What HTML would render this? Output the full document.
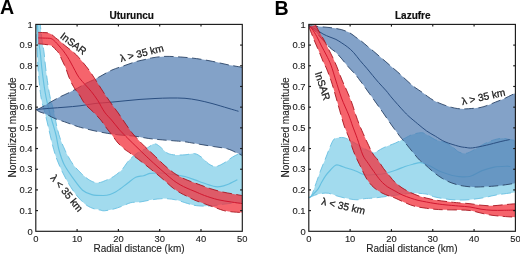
<!DOCTYPE html>
<html><head><meta charset="utf-8"><style>
html,body{margin:0;padding:0;background:#fff;width:520px;height:254px;overflow:hidden}
svg{display:block;will-change:transform}
#w{width:520px;height:254px}
text{font-family:"Liberation Sans",sans-serif;fill:#222}
.tk{font-size:9.4px;fill:#1e1e1e;stroke:#1e1e1e;stroke-width:0.12px}
.ttl{font-size:10px;font-weight:bold;fill:#111;stroke:#111;stroke-width:0.2px}
.pl{font-size:19.6px;font-weight:bold;fill:#000}
.al{font-size:10px;fill:#1e1e1e;stroke:#1e1e1e;stroke-width:0.12px}
.ann{font-size:10.2px;fill:#1e1e1e;stroke:#1e1e1e;stroke-width:0.28px}
</style></head><body><div id="w">
<svg width="520" height="254" viewBox="0 0 520 254">
<defs><clipPath id="clipA"><rect x="35.80" y="24.40" width="206.50" height="206.90"/></clipPath><clipPath id="clipB"><rect x="308.80" y="24.40" width="206.60" height="206.90"/></clipPath></defs>
<rect width="520" height="254" fill="#fff"/>
<g clip-path="url(#clipA)"><path d="M39.80,20.00 C40.17,23.33 41.30,34.67 42.00,40.00 C42.70,45.33 43.38,47.33 44.00,52.00 C44.62,56.67 45.03,62.50 45.70,68.00 C46.37,73.50 47.23,80.00 48.00,85.00 C48.77,90.00 49.30,93.50 50.30,98.00 C51.30,102.50 52.97,107.50 54.00,112.00 C55.03,116.50 55.50,120.67 56.50,125.00 C57.50,129.33 58.67,134.00 60.00,138.00 C61.33,142.00 63.08,145.83 64.50,149.00 C65.92,152.17 67.00,154.33 68.50,157.00 C70.00,159.67 71.33,162.23 73.50,165.00 C75.67,167.77 78.75,171.03 81.50,173.60 C84.25,176.17 87.27,178.87 90.00,180.40 C92.73,181.93 95.28,182.80 97.90,182.80 C100.52,182.80 103.08,181.45 105.70,180.40 C108.32,179.35 110.97,178.20 113.60,176.50 C116.23,174.80 119.40,172.30 121.50,170.20 C123.60,168.10 124.78,165.73 126.20,163.90 C127.62,162.07 128.03,161.10 130.00,159.20 C131.97,157.30 135.10,154.38 138.00,152.50 C140.90,150.62 144.68,149.35 147.40,147.90 C150.12,146.45 152.23,144.03 154.30,143.80 C156.37,143.57 157.73,145.02 159.80,146.50 C161.87,147.98 164.40,151.32 166.70,152.70 C169.00,154.08 170.55,154.45 173.60,154.80 C176.65,155.15 181.52,155.00 185.00,154.80 C188.48,154.60 191.75,153.20 194.50,153.60 C197.25,154.00 199.15,155.50 201.50,157.20 C203.85,158.90 206.23,162.25 208.60,163.80 C210.97,165.35 213.13,166.63 215.70,166.50 C218.27,166.37 221.23,164.55 224.00,163.00 C226.77,161.45 229.73,158.77 232.30,157.20 C234.87,155.63 237.45,154.47 239.40,153.60 C241.35,152.73 243.23,152.27 244.00,152.00 L244.00,202.00 C240.83,202.33 230.67,203.33 225.00,204.00 C219.33,204.67 214.72,205.72 210.00,206.00 C205.28,206.28 200.48,206.13 196.70,205.70 C192.92,205.27 190.83,204.38 187.30,203.40 C183.77,202.42 179.45,200.60 175.50,199.80 C171.55,199.00 167.55,198.60 163.60,198.60 C159.65,198.60 155.73,199.23 151.80,199.80 C147.87,200.37 143.50,201.52 140.00,202.00 C136.50,202.48 133.82,201.98 130.80,202.70 C127.78,203.42 124.85,205.22 121.90,206.30 C118.95,207.38 116.05,208.45 113.10,209.20 C110.15,209.95 106.38,210.67 104.20,210.80 C102.02,210.93 101.47,210.25 100.00,210.00 C98.53,209.75 97.65,210.10 95.40,209.30 C93.15,208.50 89.40,207.25 86.50,205.20 C83.60,203.15 80.42,199.70 78.00,197.00 C75.58,194.30 74.00,192.00 72.00,189.00 C70.00,186.00 67.92,182.50 66.00,179.00 C64.08,175.50 62.17,171.67 60.50,168.00 C58.83,164.33 57.33,160.83 56.00,157.00 C54.67,153.17 53.67,149.50 52.50,145.00 C51.33,140.50 50.17,135.00 49.00,130.00 C47.83,125.00 46.75,120.00 45.50,115.00 C44.25,110.00 42.50,105.00 41.50,100.00 C40.50,95.00 40.08,90.33 39.50,85.00 C38.92,79.67 38.37,73.50 38.00,68.00 C37.63,62.50 37.55,56.67 37.30,52.00 C37.05,47.33 36.75,45.33 36.50,40.00 C36.25,34.67 35.92,23.33 35.80,20.00 Z" fill="#a2dbee" fill-opacity="1" stroke="none"/></g>
<g clip-path="url(#clipA)" fill="none"><path d="M39.80,20.00 C40.17,23.33 41.30,34.67 42.00,40.00 C42.70,45.33 43.38,47.33 44.00,52.00 C44.62,56.67 45.03,62.50 45.70,68.00 C46.37,73.50 47.23,80.00 48.00,85.00 C48.77,90.00 49.30,93.50 50.30,98.00 C51.30,102.50 52.97,107.50 54.00,112.00 C55.03,116.50 55.50,120.67 56.50,125.00 C57.50,129.33 58.67,134.00 60.00,138.00 C61.33,142.00 63.08,145.83 64.50,149.00 C65.92,152.17 67.00,154.33 68.50,157.00 C70.00,159.67 71.33,162.23 73.50,165.00 C75.67,167.77 78.75,171.03 81.50,173.60 C84.25,176.17 87.27,178.87 90.00,180.40 C92.73,181.93 95.28,182.80 97.90,182.80 C100.52,182.80 103.08,181.45 105.70,180.40 C108.32,179.35 110.97,178.20 113.60,176.50 C116.23,174.80 119.40,172.30 121.50,170.20 C123.60,168.10 124.78,165.73 126.20,163.90 C127.62,162.07 128.03,161.10 130.00,159.20 C131.97,157.30 135.10,154.38 138.00,152.50 C140.90,150.62 144.68,149.35 147.40,147.90 C150.12,146.45 152.23,144.03 154.30,143.80 C156.37,143.57 157.73,145.02 159.80,146.50 C161.87,147.98 164.40,151.32 166.70,152.70 C169.00,154.08 170.55,154.45 173.60,154.80 C176.65,155.15 181.52,155.00 185.00,154.80 C188.48,154.60 191.75,153.20 194.50,153.60 C197.25,154.00 199.15,155.50 201.50,157.20 C203.85,158.90 206.23,162.25 208.60,163.80 C210.97,165.35 213.13,166.63 215.70,166.50 C218.27,166.37 221.23,164.55 224.00,163.00 C226.77,161.45 229.73,158.77 232.30,157.20 C234.87,155.63 237.45,154.47 239.40,153.60 C241.35,152.73 243.23,152.27 244.00,152.00" stroke="#62bde0" stroke-width="0.85" stroke-dasharray="9.5 4.5"/><path d="M35.80,20.00 C35.92,23.33 36.25,34.67 36.50,40.00 C36.75,45.33 37.05,47.33 37.30,52.00 C37.55,56.67 37.63,62.50 38.00,68.00 C38.37,73.50 38.92,79.67 39.50,85.00 C40.08,90.33 40.50,95.00 41.50,100.00 C42.50,105.00 44.25,110.00 45.50,115.00 C46.75,120.00 47.83,125.00 49.00,130.00 C50.17,135.00 51.33,140.50 52.50,145.00 C53.67,149.50 54.67,153.17 56.00,157.00 C57.33,160.83 58.83,164.33 60.50,168.00 C62.17,171.67 64.08,175.50 66.00,179.00 C67.92,182.50 70.00,186.00 72.00,189.00 C74.00,192.00 75.58,194.30 78.00,197.00 C80.42,199.70 83.60,203.15 86.50,205.20 C89.40,207.25 93.15,208.50 95.40,209.30 C97.65,210.10 98.53,209.75 100.00,210.00 C101.47,210.25 102.02,210.93 104.20,210.80 C106.38,210.67 110.15,209.95 113.10,209.20 C116.05,208.45 118.95,207.38 121.90,206.30 C124.85,205.22 127.78,203.42 130.80,202.70 C133.82,201.98 136.50,202.48 140.00,202.00 C143.50,201.52 147.87,200.37 151.80,199.80 C155.73,199.23 159.65,198.60 163.60,198.60 C167.55,198.60 171.55,199.00 175.50,199.80 C179.45,200.60 183.77,202.42 187.30,203.40 C190.83,204.38 192.92,205.27 196.70,205.70 C200.48,206.13 205.28,206.28 210.00,206.00 C214.72,205.72 219.33,204.67 225.00,204.00 C230.67,203.33 240.83,202.33 244.00,202.00" stroke="#62bde0" stroke-width="0.85" stroke-dasharray="9.5 4.5"/><path d="M37.20,20.00 C37.42,23.33 38.00,34.67 38.50,40.00 C39.00,45.33 39.65,47.33 40.20,52.00 C40.75,56.67 41.17,62.50 41.80,68.00 C42.43,73.50 43.30,80.17 44.00,85.00 C44.70,89.83 45.17,92.83 46.00,97.00 C46.83,101.17 47.95,105.83 49.00,110.00 C50.05,114.17 51.13,117.83 52.30,122.00 C53.47,126.17 54.88,130.33 56.00,135.00 C57.12,139.67 57.67,145.13 59.00,150.00 C60.33,154.87 61.63,159.47 64.00,164.20 C66.37,168.93 70.10,174.07 73.20,178.40 C76.30,182.73 79.50,187.50 82.60,190.20 C85.70,192.90 88.30,193.72 91.80,194.60 C95.30,195.48 100.57,195.52 103.60,195.50 C106.63,195.48 108.02,195.08 110.00,194.50 C111.98,193.92 113.83,192.92 115.50,192.00 C117.17,191.08 117.93,190.50 120.00,189.00 C122.07,187.50 125.28,184.95 127.90,183.00 C130.52,181.05 133.08,178.52 135.70,177.30 C138.32,176.08 141.23,176.35 143.60,175.70 C145.97,175.05 147.17,173.85 149.90,173.40 C152.63,172.95 156.65,172.90 160.00,173.00 C163.35,173.10 165.83,173.42 170.00,174.00 C174.17,174.58 180.13,175.25 185.00,176.50 C189.87,177.75 194.47,179.87 199.20,181.50 C203.93,183.13 209.93,185.45 213.40,186.30 C216.87,187.15 217.63,186.90 220.00,186.60 C222.37,186.30 224.70,185.63 227.60,184.50 C230.50,183.37 235.77,180.58 237.40,179.80" stroke="#66c0e0" stroke-width="1.15"/></g>
<g clip-path="url(#clipA)"><path d="M35.80,109.50 C36.50,109.28 37.65,109.37 40.00,108.20 C42.35,107.03 46.62,104.37 49.90,102.50 C53.18,100.63 56.70,98.55 59.70,97.00 C62.70,95.45 64.97,94.65 67.90,93.20 C70.83,91.75 74.28,89.95 77.30,88.30 C80.32,86.65 83.12,84.78 86.00,83.30 C88.88,81.82 92.27,80.53 94.60,79.40 C96.93,78.27 97.13,78.05 100.00,76.50 C102.87,74.95 107.87,71.87 111.80,70.10 C115.73,68.33 119.67,67.28 123.60,65.90 C127.53,64.52 131.83,62.87 135.40,61.80 C138.97,60.73 142.07,60.18 145.00,59.50 C147.93,58.82 149.67,58.22 153.00,57.70 C156.33,57.18 160.38,56.52 165.00,56.40 C169.62,56.28 175.45,56.63 180.70,57.00 C185.95,57.37 191.25,57.88 196.50,58.60 C201.75,59.32 206.95,60.27 212.20,61.30 C217.45,62.33 222.98,63.80 228.00,64.80 C233.02,65.80 239.92,66.88 242.30,67.30 L242.30,155.50 C241.42,155.08 239.45,154.10 237.00,153.00 C234.55,151.90 231.53,149.98 227.60,148.90 C223.67,147.82 218.13,147.28 213.40,146.50 C208.67,145.72 203.93,144.98 199.20,144.20 C194.47,143.42 188.82,142.33 185.00,141.80 C181.18,141.27 180.05,141.32 176.30,141.00 C172.55,140.68 167.08,140.32 162.50,139.90 C157.92,139.48 153.38,139.12 148.80,138.50 C144.22,137.88 139.80,136.78 135.00,136.20 C130.20,135.62 124.63,135.48 120.00,135.00 C115.37,134.52 111.70,134.05 107.20,133.30 C102.70,132.55 97.48,131.50 93.00,130.50 C88.52,129.50 83.63,128.23 80.30,127.30 C76.97,126.37 75.63,125.82 73.00,124.90 C70.37,123.98 67.50,122.85 64.50,121.80 C61.50,120.75 58.15,119.92 55.00,118.60 C51.85,117.28 48.10,115.00 45.60,113.90 C43.10,112.80 41.63,112.73 40.00,112.00 C38.37,111.27 36.50,109.92 35.80,109.50 Z" fill="#4f7bb0" fill-opacity="0.7" stroke="none"/></g>
<g clip-path="url(#clipA)" fill="none"><path d="M35.80,109.50 C36.50,109.28 37.65,109.37 40.00,108.20 C42.35,107.03 46.62,104.37 49.90,102.50 C53.18,100.63 56.70,98.55 59.70,97.00 C62.70,95.45 64.97,94.65 67.90,93.20 C70.83,91.75 74.28,89.95 77.30,88.30 C80.32,86.65 83.12,84.78 86.00,83.30 C88.88,81.82 92.27,80.53 94.60,79.40 C96.93,78.27 97.13,78.05 100.00,76.50 C102.87,74.95 107.87,71.87 111.80,70.10 C115.73,68.33 119.67,67.28 123.60,65.90 C127.53,64.52 131.83,62.87 135.40,61.80 C138.97,60.73 142.07,60.18 145.00,59.50 C147.93,58.82 149.67,58.22 153.00,57.70 C156.33,57.18 160.38,56.52 165.00,56.40 C169.62,56.28 175.45,56.63 180.70,57.00 C185.95,57.37 191.25,57.88 196.50,58.60 C201.75,59.32 206.95,60.27 212.20,61.30 C217.45,62.33 222.98,63.80 228.00,64.80 C233.02,65.80 239.92,66.88 242.30,67.30" stroke="#2a4466" stroke-width="0.9" stroke-dasharray="9.5 4.5"/><path d="M35.80,109.50 C36.50,109.92 38.37,111.27 40.00,112.00 C41.63,112.73 43.10,112.80 45.60,113.90 C48.10,115.00 51.85,117.28 55.00,118.60 C58.15,119.92 61.50,120.75 64.50,121.80 C67.50,122.85 70.37,123.98 73.00,124.90 C75.63,125.82 76.97,126.37 80.30,127.30 C83.63,128.23 88.52,129.50 93.00,130.50 C97.48,131.50 102.70,132.55 107.20,133.30 C111.70,134.05 115.37,134.52 120.00,135.00 C124.63,135.48 130.20,135.62 135.00,136.20 C139.80,136.78 144.22,137.88 148.80,138.50 C153.38,139.12 157.92,139.48 162.50,139.90 C167.08,140.32 172.55,140.68 176.30,141.00 C180.05,141.32 181.18,141.27 185.00,141.80 C188.82,142.33 194.47,143.42 199.20,144.20 C203.93,144.98 208.67,145.72 213.40,146.50 C218.13,147.28 223.67,147.82 227.60,148.90 C231.53,149.98 234.55,151.90 237.00,153.00 C239.45,154.10 241.42,155.08 242.30,155.50" stroke="#2a4466" stroke-width="0.9" stroke-dasharray="9.5 4.5"/><path d="M35.80,109.50 C38.17,109.30 45.13,108.68 50.00,108.30 C54.87,107.92 60.00,107.62 65.00,107.20 C70.00,106.78 75.00,106.42 80.00,105.80 C85.00,105.18 90.00,104.08 95.00,103.50 C100.00,102.92 105.00,102.75 110.00,102.30 C115.00,101.85 120.00,101.28 125.00,100.80 C130.00,100.32 135.00,99.78 140.00,99.40 C145.00,99.02 150.00,98.73 155.00,98.50 C160.00,98.27 165.00,98.03 170.00,98.00 C175.00,97.97 180.33,97.93 185.00,98.30 C189.67,98.67 193.50,99.33 198.00,100.20 C202.50,101.07 207.00,102.17 212.00,103.50 C217.00,104.83 223.58,106.90 228.00,108.20 C232.42,109.50 236.75,110.78 238.50,111.30" stroke="#2b4f80" stroke-width="1.0"/></g>
<g clip-path="url(#clipA)"><path d="M38.30,32.40 C39.25,32.43 42.30,32.50 44.00,32.60 C45.70,32.70 47.17,32.63 48.50,33.00 C49.83,33.37 50.83,34.00 52.00,34.80 C53.17,35.60 54.27,36.80 55.50,37.80 C56.73,38.80 57.77,39.47 59.40,40.80 C61.03,42.13 63.37,44.22 65.30,45.80 C67.23,47.38 69.13,48.77 71.00,50.30 C72.87,51.83 74.67,53.17 76.50,55.00 C78.33,56.83 79.92,58.80 82.00,61.30 C84.08,63.80 87.00,67.30 89.00,70.00 C91.00,72.70 92.42,75.08 94.00,77.50 C95.58,79.92 97.00,82.17 98.50,84.50 C100.00,86.83 101.70,89.50 103.00,91.50 C104.30,93.50 105.25,94.97 106.30,96.50 C107.35,98.03 108.18,99.12 109.30,100.70 C110.42,102.28 111.63,104.12 113.00,106.00 C114.37,107.88 115.83,109.67 117.50,112.00 C119.17,114.33 121.17,117.33 123.00,120.00 C124.83,122.67 126.83,125.67 128.50,128.00 C130.17,130.33 130.78,131.42 133.00,134.00 C135.22,136.58 139.17,140.78 141.80,143.50 C144.43,146.22 146.48,148.08 148.80,150.30 C151.12,152.52 153.00,154.22 155.70,156.80 C158.40,159.38 162.07,163.18 165.00,165.80 C167.93,168.42 170.77,170.67 173.30,172.50 C175.83,174.33 177.92,175.55 180.20,176.80 C182.48,178.05 184.53,178.97 187.00,180.00 C189.47,181.03 192.08,181.92 195.00,183.00 C197.92,184.08 201.85,185.53 204.50,186.50 C207.15,187.47 207.87,187.88 210.90,188.80 C213.93,189.72 218.75,191.10 222.70,192.00 C226.65,192.90 231.33,193.60 234.60,194.20 C237.87,194.80 241.02,195.37 242.30,195.60 L242.30,212.50 C240.83,212.42 236.58,212.32 233.50,212.00 C230.42,211.68 227.02,211.40 223.80,210.60 C220.58,209.80 217.40,208.33 214.20,207.20 C211.00,206.07 207.80,204.95 204.60,203.80 C201.40,202.65 197.93,201.55 195.00,200.30 C192.07,199.05 189.47,197.55 187.00,196.30 C184.53,195.05 182.48,194.13 180.20,192.80 C177.92,191.47 175.83,190.27 173.30,188.30 C170.77,186.33 167.55,183.22 165.00,181.00 C162.45,178.78 160.50,177.08 158.00,175.00 C155.50,172.92 152.70,170.67 150.00,168.50 C147.30,166.33 145.13,164.58 141.80,162.00 C138.47,159.42 132.80,155.08 130.00,153.00 C127.20,150.92 127.00,151.17 125.00,149.50 C123.00,147.83 120.17,145.42 118.00,143.00 C115.83,140.58 113.92,137.50 112.00,135.00 C110.08,132.50 108.37,130.50 106.50,128.00 C104.63,125.50 103.00,122.67 100.80,120.00 C98.60,117.33 95.93,114.67 93.30,112.00 C90.67,109.33 87.20,106.67 85.00,104.00 C82.80,101.33 81.27,97.83 80.10,96.00 C78.93,94.17 78.85,94.17 78.00,93.00 C77.15,91.83 76.08,90.67 75.00,89.00 C73.92,87.33 72.58,85.17 71.50,83.00 C70.42,80.83 69.47,78.50 68.50,76.00 C67.53,73.50 66.78,70.67 65.70,68.00 C64.62,65.33 63.20,62.53 62.00,60.00 C60.80,57.47 59.50,54.47 58.50,52.80 C57.50,51.13 56.87,50.97 56.00,50.00 C55.13,49.03 54.30,47.78 53.30,47.00 C52.30,46.22 51.42,45.73 50.00,45.30 C48.58,44.87 46.75,44.65 44.80,44.40 C42.85,44.15 39.38,43.90 38.30,43.80 Z" fill="#f2303b" fill-opacity="0.75" stroke="none"/></g>
<g clip-path="url(#clipA)" fill="none"><path d="M38.30,32.40 C39.25,32.43 42.30,32.50 44.00,32.60 C45.70,32.70 47.17,32.63 48.50,33.00 C49.83,33.37 50.83,34.00 52.00,34.80 C53.17,35.60 54.27,36.80 55.50,37.80 C56.73,38.80 57.77,39.47 59.40,40.80 C61.03,42.13 63.37,44.22 65.30,45.80 C67.23,47.38 69.13,48.77 71.00,50.30 C72.87,51.83 74.67,53.17 76.50,55.00 C78.33,56.83 79.92,58.80 82.00,61.30 C84.08,63.80 87.00,67.30 89.00,70.00 C91.00,72.70 92.42,75.08 94.00,77.50 C95.58,79.92 97.00,82.17 98.50,84.50 C100.00,86.83 101.70,89.50 103.00,91.50 C104.30,93.50 105.25,94.97 106.30,96.50 C107.35,98.03 108.18,99.12 109.30,100.70 C110.42,102.28 111.63,104.12 113.00,106.00 C114.37,107.88 115.83,109.67 117.50,112.00 C119.17,114.33 121.17,117.33 123.00,120.00 C124.83,122.67 126.83,125.67 128.50,128.00 C130.17,130.33 130.78,131.42 133.00,134.00 C135.22,136.58 139.17,140.78 141.80,143.50 C144.43,146.22 146.48,148.08 148.80,150.30 C151.12,152.52 153.00,154.22 155.70,156.80 C158.40,159.38 162.07,163.18 165.00,165.80 C167.93,168.42 170.77,170.67 173.30,172.50 C175.83,174.33 177.92,175.55 180.20,176.80 C182.48,178.05 184.53,178.97 187.00,180.00 C189.47,181.03 192.08,181.92 195.00,183.00 C197.92,184.08 201.85,185.53 204.50,186.50 C207.15,187.47 207.87,187.88 210.90,188.80 C213.93,189.72 218.75,191.10 222.70,192.00 C226.65,192.90 231.33,193.60 234.60,194.20 C237.87,194.80 241.02,195.37 242.30,195.60" stroke="#a8141f" stroke-width="0.9" stroke-dasharray="9.5 4.5"/><path d="M38.30,43.80 C39.38,43.90 42.85,44.15 44.80,44.40 C46.75,44.65 48.58,44.87 50.00,45.30 C51.42,45.73 52.30,46.22 53.30,47.00 C54.30,47.78 55.13,49.03 56.00,50.00 C56.87,50.97 57.50,51.13 58.50,52.80 C59.50,54.47 60.80,57.47 62.00,60.00 C63.20,62.53 64.62,65.33 65.70,68.00 C66.78,70.67 67.53,73.50 68.50,76.00 C69.47,78.50 70.42,80.83 71.50,83.00 C72.58,85.17 73.92,87.33 75.00,89.00 C76.08,90.67 77.15,91.83 78.00,93.00 C78.85,94.17 78.93,94.17 80.10,96.00 C81.27,97.83 82.80,101.33 85.00,104.00 C87.20,106.67 90.67,109.33 93.30,112.00 C95.93,114.67 98.60,117.33 100.80,120.00 C103.00,122.67 104.63,125.50 106.50,128.00 C108.37,130.50 110.08,132.50 112.00,135.00 C113.92,137.50 115.83,140.58 118.00,143.00 C120.17,145.42 123.00,147.83 125.00,149.50 C127.00,151.17 127.20,150.92 130.00,153.00 C132.80,155.08 138.47,159.42 141.80,162.00 C145.13,164.58 147.30,166.33 150.00,168.50 C152.70,170.67 155.50,172.92 158.00,175.00 C160.50,177.08 162.45,178.78 165.00,181.00 C167.55,183.22 170.77,186.33 173.30,188.30 C175.83,190.27 177.92,191.47 180.20,192.80 C182.48,194.13 184.53,195.05 187.00,196.30 C189.47,197.55 192.07,199.05 195.00,200.30 C197.93,201.55 201.40,202.65 204.60,203.80 C207.80,204.95 211.00,206.07 214.20,207.20 C217.40,208.33 220.58,209.80 223.80,210.60 C227.02,211.40 230.42,211.68 233.50,212.00 C236.58,212.32 240.83,212.42 242.30,212.50" stroke="#a8141f" stroke-width="0.9" stroke-dasharray="9.5 4.5"/><path d="M38.30,37.90 C39.25,37.93 41.93,38.00 44.00,38.10 C46.07,38.20 49.03,38.10 50.70,38.50 C52.37,38.90 52.95,39.67 54.00,40.50 C55.05,41.33 56.00,42.42 57.00,43.50 C58.00,44.58 59.00,45.83 60.00,47.00 C61.00,48.17 61.78,48.92 63.00,50.50 C64.22,52.08 65.97,54.42 67.30,56.50 C68.63,58.58 69.72,60.67 71.00,63.00 C72.28,65.33 73.67,68.08 75.00,70.50 C76.33,72.92 77.25,75.08 79.00,77.50 C80.75,79.92 83.45,82.67 85.50,85.00 C87.55,87.33 89.25,88.92 91.30,91.50 C93.35,94.08 95.60,97.08 97.80,100.50 C100.00,103.92 102.22,108.75 104.50,112.00 C106.78,115.25 109.25,117.33 111.50,120.00 C113.75,122.67 116.17,125.83 118.00,128.00 C119.83,130.17 120.50,130.92 122.50,133.00 C124.50,135.08 126.78,137.33 130.00,140.50 C133.22,143.67 138.47,148.78 141.80,152.00 C145.13,155.22 147.47,157.43 150.00,159.80 C152.53,162.17 154.50,163.97 157.00,166.20 C159.50,168.43 162.28,170.85 165.00,173.20 C167.72,175.55 170.77,178.37 173.30,180.30 C175.83,182.23 177.92,183.48 180.20,184.80 C182.48,186.12 184.53,187.08 187.00,188.20 C189.47,189.32 192.08,190.28 195.00,191.50 C197.92,192.72 200.68,194.13 204.50,195.50 C208.32,196.87 213.42,198.62 217.90,199.70 C222.38,200.78 227.33,201.35 231.40,202.00 C235.47,202.65 240.48,203.33 242.30,203.60" stroke="#d01830" stroke-width="1.0"/></g>
<g stroke="#1a1a1a" stroke-width="1.15" fill="none"><rect x="35.80" y="24.40" width="206.50" height="206.90"/><line x1="77.10" y1="231.30" x2="77.10" y2="229.10"/><line x1="77.10" y1="24.40" x2="77.10" y2="26.60"/><line x1="118.40" y1="231.30" x2="118.40" y2="229.10"/><line x1="118.40" y1="24.40" x2="118.40" y2="26.60"/><line x1="159.70" y1="231.30" x2="159.70" y2="229.10"/><line x1="159.70" y1="24.40" x2="159.70" y2="26.60"/><line x1="201.00" y1="231.30" x2="201.00" y2="229.10"/><line x1="201.00" y1="24.40" x2="201.00" y2="26.60"/><line x1="35.80" y1="210.61" x2="38.00" y2="210.61"/><line x1="242.30" y1="210.61" x2="240.10" y2="210.61"/><line x1="35.80" y1="189.92" x2="38.00" y2="189.92"/><line x1="242.30" y1="189.92" x2="240.10" y2="189.92"/><line x1="35.80" y1="169.23" x2="38.00" y2="169.23"/><line x1="242.30" y1="169.23" x2="240.10" y2="169.23"/><line x1="35.80" y1="148.54" x2="38.00" y2="148.54"/><line x1="242.30" y1="148.54" x2="240.10" y2="148.54"/><line x1="35.80" y1="127.85" x2="38.00" y2="127.85"/><line x1="242.30" y1="127.85" x2="240.10" y2="127.85"/><line x1="35.80" y1="107.16" x2="38.00" y2="107.16"/><line x1="242.30" y1="107.16" x2="240.10" y2="107.16"/><line x1="35.80" y1="86.47" x2="38.00" y2="86.47"/><line x1="242.30" y1="86.47" x2="240.10" y2="86.47"/><line x1="35.80" y1="65.78" x2="38.00" y2="65.78"/><line x1="242.30" y1="65.78" x2="240.10" y2="65.78"/><line x1="35.80" y1="45.09" x2="38.00" y2="45.09"/><line x1="242.30" y1="45.09" x2="240.10" y2="45.09"/></g>
<text x="32.60" y="234.50" text-anchor="end" class="tk">0</text><text x="32.60" y="213.81" text-anchor="end" class="tk">0.1</text><text x="32.60" y="193.12" text-anchor="end" class="tk">0.2</text><text x="32.60" y="172.43" text-anchor="end" class="tk">0.3</text><text x="32.60" y="151.74" text-anchor="end" class="tk">0.4</text><text x="32.60" y="131.05" text-anchor="end" class="tk">0.5</text><text x="32.60" y="110.36" text-anchor="end" class="tk">0.6</text><text x="32.60" y="89.67" text-anchor="end" class="tk">0.7</text><text x="32.60" y="68.98" text-anchor="end" class="tk">0.8</text><text x="32.60" y="48.29" text-anchor="end" class="tk">0.9</text><text x="32.60" y="27.60" text-anchor="end" class="tk">1</text><text x="35.80" y="242.10" text-anchor="middle" class="tk">0</text><text x="77.10" y="242.10" text-anchor="middle" class="tk">10</text><text x="118.40" y="242.10" text-anchor="middle" class="tk">20</text><text x="159.70" y="242.10" text-anchor="middle" class="tk">30</text><text x="201.00" y="242.10" text-anchor="middle" class="tk">40</text><text x="242.30" y="242.10" text-anchor="middle" class="tk">50</text>
<g clip-path="url(#clipB)"><path d="M308.70,197.60 C309.08,197.42 310.20,197.68 311.00,196.50 C311.80,195.32 312.70,192.58 313.50,190.50 C314.30,188.42 314.58,187.42 315.80,184.00 C317.02,180.58 319.15,174.33 320.80,170.00 C322.45,165.67 324.33,161.42 325.70,158.00 C327.07,154.58 327.70,152.53 329.00,149.50 C330.30,146.47 331.98,141.75 333.50,139.80 C335.02,137.85 336.35,138.15 338.10,137.80 C339.85,137.45 342.02,137.28 344.00,137.70 C345.98,138.12 347.33,138.92 350.00,140.30 C352.67,141.68 357.17,144.38 360.00,146.00 C362.83,147.62 364.63,148.92 367.00,150.00 C369.37,151.08 371.43,152.88 374.20,152.50 C376.97,152.12 380.05,149.28 383.60,147.70 C387.15,146.12 391.88,144.62 395.50,143.00 C399.12,141.38 402.48,139.42 405.30,138.00 C408.12,136.58 409.75,135.38 412.40,134.50 C415.05,133.62 418.85,132.70 421.20,132.70 C423.55,132.70 424.13,133.32 426.50,134.50 C428.87,135.68 432.32,138.47 435.40,139.80 C438.48,141.13 442.23,141.38 445.00,142.50 C447.77,143.62 449.70,144.92 452.00,146.50 C454.30,148.08 456.52,150.85 458.80,152.00 C461.08,153.15 463.42,153.62 465.70,153.40 C467.98,153.18 470.22,151.85 472.50,150.70 C474.78,149.55 477.15,147.78 479.40,146.50 C481.65,145.22 483.90,144.00 486.00,143.00 C488.10,142.00 490.12,141.17 492.00,140.50 C493.88,139.83 495.48,139.37 497.30,139.00 C499.12,138.63 500.83,138.20 502.90,138.30 C504.97,138.40 507.52,139.23 509.70,139.60 C511.88,139.97 514.95,140.35 516.00,140.50 L516.00,192.50 C515.47,192.53 516.08,192.28 512.80,192.70 C509.52,193.12 501.43,194.12 496.30,195.00 C491.17,195.88 487.22,197.17 482.00,198.00 C476.78,198.83 470.33,199.75 465.00,200.00 C459.67,200.25 455.00,200.00 450.00,199.50 C445.00,199.00 439.00,197.92 435.00,197.00 C431.00,196.08 429.47,194.62 426.00,194.00 C422.53,193.38 417.70,193.30 414.20,193.30 C410.70,193.30 409.03,193.55 405.00,194.00 C400.97,194.45 395.13,195.33 390.00,196.00 C384.87,196.67 378.37,197.57 374.20,198.00 C370.03,198.43 367.87,198.30 365.00,198.60 C362.13,198.90 359.90,199.80 357.00,199.80 C354.10,199.80 350.75,199.18 347.60,198.60 C344.45,198.02 341.27,197.18 338.10,196.30 C334.93,195.42 331.37,193.77 328.60,193.30 C325.83,192.83 323.85,193.17 321.50,193.50 C319.15,193.83 316.63,194.55 314.50,195.30 C312.37,196.05 309.67,197.55 308.70,198.00 Z" fill="#a2dbee" fill-opacity="1" stroke="none"/></g>
<g clip-path="url(#clipB)" fill="none"><path d="M308.70,197.60 C309.08,197.42 310.20,197.68 311.00,196.50 C311.80,195.32 312.70,192.58 313.50,190.50 C314.30,188.42 314.58,187.42 315.80,184.00 C317.02,180.58 319.15,174.33 320.80,170.00 C322.45,165.67 324.33,161.42 325.70,158.00 C327.07,154.58 327.70,152.53 329.00,149.50 C330.30,146.47 331.98,141.75 333.50,139.80 C335.02,137.85 336.35,138.15 338.10,137.80 C339.85,137.45 342.02,137.28 344.00,137.70 C345.98,138.12 347.33,138.92 350.00,140.30 C352.67,141.68 357.17,144.38 360.00,146.00 C362.83,147.62 364.63,148.92 367.00,150.00 C369.37,151.08 371.43,152.88 374.20,152.50 C376.97,152.12 380.05,149.28 383.60,147.70 C387.15,146.12 391.88,144.62 395.50,143.00 C399.12,141.38 402.48,139.42 405.30,138.00 C408.12,136.58 409.75,135.38 412.40,134.50 C415.05,133.62 418.85,132.70 421.20,132.70 C423.55,132.70 424.13,133.32 426.50,134.50 C428.87,135.68 432.32,138.47 435.40,139.80 C438.48,141.13 442.23,141.38 445.00,142.50 C447.77,143.62 449.70,144.92 452.00,146.50 C454.30,148.08 456.52,150.85 458.80,152.00 C461.08,153.15 463.42,153.62 465.70,153.40 C467.98,153.18 470.22,151.85 472.50,150.70 C474.78,149.55 477.15,147.78 479.40,146.50 C481.65,145.22 483.90,144.00 486.00,143.00 C488.10,142.00 490.12,141.17 492.00,140.50 C493.88,139.83 495.48,139.37 497.30,139.00 C499.12,138.63 500.83,138.20 502.90,138.30 C504.97,138.40 507.52,139.23 509.70,139.60 C511.88,139.97 514.95,140.35 516.00,140.50" stroke="#62bde0" stroke-width="0.85" stroke-dasharray="9.5 4.5"/><path d="M308.70,198.00 C309.67,197.55 312.37,196.05 314.50,195.30 C316.63,194.55 319.15,193.83 321.50,193.50 C323.85,193.17 325.83,192.83 328.60,193.30 C331.37,193.77 334.93,195.42 338.10,196.30 C341.27,197.18 344.45,198.02 347.60,198.60 C350.75,199.18 354.10,199.80 357.00,199.80 C359.90,199.80 362.13,198.90 365.00,198.60 C367.87,198.30 370.03,198.43 374.20,198.00 C378.37,197.57 384.87,196.67 390.00,196.00 C395.13,195.33 400.97,194.45 405.00,194.00 C409.03,193.55 410.70,193.30 414.20,193.30 C417.70,193.30 422.53,193.38 426.00,194.00 C429.47,194.62 431.00,196.08 435.00,197.00 C439.00,197.92 445.00,199.00 450.00,199.50 C455.00,200.00 459.67,200.25 465.00,200.00 C470.33,199.75 476.78,198.83 482.00,198.00 C487.22,197.17 491.17,195.88 496.30,195.00 C501.43,194.12 509.52,193.12 512.80,192.70 C516.08,192.28 515.47,192.53 516.00,192.50" stroke="#62bde0" stroke-width="0.85" stroke-dasharray="9.5 4.5"/><path d="M308.70,197.80 C309.25,197.38 310.48,196.70 312.00,195.30 C313.52,193.90 316.22,191.53 317.80,189.40 C319.38,187.27 320.18,184.80 321.50,182.50 C322.82,180.20 324.20,177.68 325.70,175.60 C327.20,173.52 328.87,171.73 330.50,170.00 C332.13,168.27 333.92,165.93 335.50,165.20 C337.08,164.47 338.35,165.18 340.00,165.60 C341.65,166.02 343.57,167.08 345.40,167.70 C347.23,168.32 349.07,168.67 351.00,169.30 C352.93,169.93 354.67,170.57 357.00,171.50 C359.33,172.43 362.00,174.40 365.00,174.90 C368.00,175.40 371.90,174.70 375.00,174.50 C378.10,174.30 380.18,174.42 383.60,173.70 C387.02,172.98 391.93,171.40 395.50,170.20 C399.07,169.00 402.10,167.50 405.00,166.50 C407.90,165.50 410.28,164.85 412.90,164.20 C415.52,163.55 418.08,162.40 420.70,162.60 C423.32,162.80 425.97,164.25 428.60,165.40 C431.23,166.55 434.22,168.35 436.50,169.50 C438.78,170.65 439.68,171.30 442.30,172.30 C444.92,173.30 449.32,174.78 452.20,175.50 C455.08,176.22 457.22,176.38 459.60,176.60 C461.98,176.82 464.48,176.93 466.50,176.80 C468.52,176.67 469.10,176.83 471.70,175.80 C474.30,174.77 478.35,172.05 482.10,170.60 C485.85,169.15 490.17,167.83 494.20,167.10 C498.23,166.37 503.58,166.28 506.30,166.20 C509.02,166.12 509.80,166.53 510.50,166.60" stroke="#66c0e0" stroke-width="1.15"/></g>
<g clip-path="url(#clipB)"><path d="M308.70,25.50 C310.25,25.67 315.12,26.22 318.00,26.50 C320.88,26.78 323.50,26.95 326.00,27.20 C328.50,27.45 330.37,27.58 333.00,28.00 C335.63,28.42 338.97,28.87 341.80,29.70 C344.63,30.53 347.65,31.73 350.00,33.00 C352.35,34.27 353.93,35.88 355.90,37.30 C357.87,38.72 359.83,39.97 361.80,41.50 C363.77,43.03 365.73,44.87 367.70,46.50 C369.67,48.13 371.55,49.58 373.60,51.30 C375.65,53.02 377.95,55.05 380.00,56.80 C382.05,58.55 383.93,60.10 385.90,61.80 C387.87,63.50 389.83,65.30 391.80,67.00 C393.77,68.70 395.73,70.25 397.70,72.00 C399.67,73.75 401.72,75.75 403.60,77.50 C405.48,79.25 407.10,80.83 409.00,82.50 C410.90,84.17 412.87,85.92 415.00,87.50 C417.13,89.08 419.68,90.50 421.80,92.00 C423.92,93.50 425.73,95.10 427.70,96.50 C429.67,97.90 431.55,99.25 433.60,100.40 C435.65,101.55 437.95,102.53 440.00,103.40 C442.05,104.27 443.93,104.93 445.90,105.60 C447.87,106.27 449.83,106.90 451.80,107.40 C453.77,107.90 455.73,108.35 457.70,108.60 C459.67,108.85 461.55,108.90 463.60,108.90 C465.65,108.90 467.27,108.82 470.00,108.60 C472.73,108.38 477.02,108.17 480.00,107.60 C482.98,107.03 485.28,106.13 487.90,105.20 C490.52,104.27 493.08,103.05 495.70,102.00 C498.32,100.95 500.97,100.07 503.60,98.90 C506.23,97.73 509.43,95.98 511.50,95.00 C513.57,94.02 515.25,93.33 516.00,93.00 L516.00,183.00 C514.67,183.23 511.63,183.88 508.00,184.40 C504.37,184.92 499.38,185.67 494.20,186.10 C489.02,186.53 481.27,186.92 476.90,187.00 C472.53,187.08 470.88,186.88 468.00,186.60 C465.12,186.32 462.43,185.95 459.60,185.30 C456.77,184.65 453.88,183.85 451.00,182.70 C448.12,181.55 445.18,180.13 442.30,178.40 C439.42,176.67 436.58,174.62 433.70,172.30 C430.82,169.98 427.37,166.55 425.00,164.50 C422.63,162.45 421.30,161.77 419.50,160.00 C417.70,158.23 416.27,156.38 414.20,153.90 C412.13,151.42 409.47,148.00 407.10,145.10 C404.73,142.20 402.60,139.85 400.00,136.50 C397.40,133.15 394.38,129.05 391.50,125.00 C388.62,120.95 385.15,115.72 382.70,112.20 C380.25,108.68 378.77,106.67 376.80,103.90 C374.83,101.13 372.87,98.35 370.90,95.60 C368.93,92.85 366.47,89.45 365.00,87.40 C363.53,85.35 363.18,84.78 362.10,83.30 C361.02,81.82 359.68,80.05 358.50,78.50 C357.32,76.95 356.75,76.00 355.00,74.00 C353.25,72.00 350.20,69.02 348.00,66.50 C345.80,63.98 343.82,61.25 341.80,58.90 C339.78,56.55 337.87,54.27 335.90,52.40 C333.93,50.53 332.48,50.10 330.00,47.70 C327.52,45.30 323.58,40.87 321.00,38.00 C318.42,35.13 316.55,32.58 314.50,30.50 C312.45,28.42 309.67,26.33 308.70,25.50 Z" fill="#4f7bb0" fill-opacity="0.7" stroke="none"/></g>
<g clip-path="url(#clipB)" fill="none"><path d="M308.70,25.50 C310.25,25.67 315.12,26.22 318.00,26.50 C320.88,26.78 323.50,26.95 326.00,27.20 C328.50,27.45 330.37,27.58 333.00,28.00 C335.63,28.42 338.97,28.87 341.80,29.70 C344.63,30.53 347.65,31.73 350.00,33.00 C352.35,34.27 353.93,35.88 355.90,37.30 C357.87,38.72 359.83,39.97 361.80,41.50 C363.77,43.03 365.73,44.87 367.70,46.50 C369.67,48.13 371.55,49.58 373.60,51.30 C375.65,53.02 377.95,55.05 380.00,56.80 C382.05,58.55 383.93,60.10 385.90,61.80 C387.87,63.50 389.83,65.30 391.80,67.00 C393.77,68.70 395.73,70.25 397.70,72.00 C399.67,73.75 401.72,75.75 403.60,77.50 C405.48,79.25 407.10,80.83 409.00,82.50 C410.90,84.17 412.87,85.92 415.00,87.50 C417.13,89.08 419.68,90.50 421.80,92.00 C423.92,93.50 425.73,95.10 427.70,96.50 C429.67,97.90 431.55,99.25 433.60,100.40 C435.65,101.55 437.95,102.53 440.00,103.40 C442.05,104.27 443.93,104.93 445.90,105.60 C447.87,106.27 449.83,106.90 451.80,107.40 C453.77,107.90 455.73,108.35 457.70,108.60 C459.67,108.85 461.55,108.90 463.60,108.90 C465.65,108.90 467.27,108.82 470.00,108.60 C472.73,108.38 477.02,108.17 480.00,107.60 C482.98,107.03 485.28,106.13 487.90,105.20 C490.52,104.27 493.08,103.05 495.70,102.00 C498.32,100.95 500.97,100.07 503.60,98.90 C506.23,97.73 509.43,95.98 511.50,95.00 C513.57,94.02 515.25,93.33 516.00,93.00" stroke="#2a4466" stroke-width="0.9" stroke-dasharray="9.5 4.5"/><path d="M308.70,25.50 C309.67,26.33 312.45,28.42 314.50,30.50 C316.55,32.58 318.42,35.13 321.00,38.00 C323.58,40.87 327.52,45.30 330.00,47.70 C332.48,50.10 333.93,50.53 335.90,52.40 C337.87,54.27 339.78,56.55 341.80,58.90 C343.82,61.25 345.80,63.98 348.00,66.50 C350.20,69.02 353.25,72.00 355.00,74.00 C356.75,76.00 357.32,76.95 358.50,78.50 C359.68,80.05 361.02,81.82 362.10,83.30 C363.18,84.78 363.53,85.35 365.00,87.40 C366.47,89.45 368.93,92.85 370.90,95.60 C372.87,98.35 374.83,101.13 376.80,103.90 C378.77,106.67 380.25,108.68 382.70,112.20 C385.15,115.72 388.62,120.95 391.50,125.00 C394.38,129.05 397.40,133.15 400.00,136.50 C402.60,139.85 404.73,142.20 407.10,145.10 C409.47,148.00 412.13,151.42 414.20,153.90 C416.27,156.38 417.70,158.23 419.50,160.00 C421.30,161.77 422.63,162.45 425.00,164.50 C427.37,166.55 430.82,169.98 433.70,172.30 C436.58,174.62 439.42,176.67 442.30,178.40 C445.18,180.13 448.12,181.55 451.00,182.70 C453.88,183.85 456.77,184.65 459.60,185.30 C462.43,185.95 465.12,186.32 468.00,186.60 C470.88,186.88 472.53,187.08 476.90,187.00 C481.27,186.92 489.02,186.53 494.20,186.10 C499.38,185.67 504.37,184.92 508.00,184.40 C511.63,183.88 514.67,183.23 516.00,183.00" stroke="#2a4466" stroke-width="0.9" stroke-dasharray="9.5 4.5"/><path d="M308.70,26.00 C309.92,26.58 313.62,28.17 316.00,29.50 C318.38,30.83 320.67,32.73 323.00,34.00 C325.33,35.27 327.85,36.20 330.00,37.10 C332.15,38.00 333.93,38.42 335.90,39.40 C337.87,40.38 339.83,41.72 341.80,43.00 C343.77,44.28 345.73,45.52 347.70,47.10 C349.67,48.68 351.55,50.27 353.60,52.50 C355.65,54.73 357.80,57.87 360.00,60.50 C362.20,63.13 364.68,65.80 366.80,68.30 C368.92,70.80 370.73,73.13 372.70,75.50 C374.67,77.87 376.33,79.93 378.60,82.50 C380.87,85.07 384.23,88.52 386.30,90.90 C388.37,93.28 389.10,94.53 391.00,96.80 C392.90,99.07 395.53,102.05 397.70,104.50 C399.87,106.95 402.12,109.50 404.00,111.50 C405.88,113.50 406.72,114.45 409.00,116.50 C411.28,118.55 414.78,121.40 417.70,123.80 C420.62,126.20 423.55,128.83 426.50,130.90 C429.45,132.97 432.32,134.38 435.40,136.20 C438.48,138.02 441.10,140.12 445.00,141.80 C448.90,143.48 455.30,145.35 458.80,146.30 C462.30,147.25 463.72,147.23 466.00,147.50 C468.28,147.77 469.12,148.28 472.50,147.90 C475.88,147.52 481.70,146.23 486.30,145.20 C490.90,144.17 496.20,142.63 500.10,141.70 C504.00,140.77 508.10,139.95 509.70,139.60" stroke="#2b4f80" stroke-width="1.0"/></g>
<g clip-path="url(#clipB)"><path d="M315.60,25.00 C316.20,26.13 317.80,29.30 319.20,31.80 C320.60,34.30 322.45,37.13 324.00,40.00 C325.55,42.87 326.80,45.58 328.50,49.00 C330.20,52.42 332.60,57.02 334.20,60.50 C335.80,63.98 336.80,66.65 338.10,69.90 C339.40,73.15 340.60,76.65 342.00,80.00 C343.40,83.35 344.92,86.33 346.50,90.00 C348.08,93.67 349.95,97.83 351.50,102.00 C353.05,106.17 354.47,111.17 355.80,115.00 C357.13,118.83 358.27,121.92 359.50,125.00 C360.73,128.08 361.87,130.50 363.20,133.50 C364.53,136.50 365.87,139.58 367.50,143.00 C369.13,146.42 371.27,151.17 373.00,154.00 C374.73,156.83 376.17,157.62 377.90,160.00 C379.63,162.38 381.38,165.55 383.40,168.30 C385.42,171.05 388.07,174.17 390.00,176.50 C391.93,178.83 393.00,180.42 395.00,182.30 C397.00,184.18 399.38,186.08 402.00,187.80 C404.62,189.52 407.87,191.23 410.70,192.60 C413.53,193.97 416.37,195.08 419.00,196.00 C421.63,196.92 423.83,197.43 426.50,198.10 C429.17,198.77 431.92,199.47 435.00,200.00 C438.08,200.53 442.17,200.93 445.00,201.30 C447.83,201.67 449.73,201.95 452.00,202.20 C454.27,202.45 455.60,202.55 458.60,202.80 C461.60,203.05 466.27,203.30 470.00,203.70 C473.73,204.10 477.33,204.85 481.00,205.20 C484.67,205.55 488.32,205.87 492.00,205.80 C495.68,205.73 499.77,205.10 503.10,204.80 C506.43,204.50 509.85,204.17 512.00,204.00 C514.15,203.83 515.33,203.83 516.00,203.80 L516.00,217.20 C515.33,217.17 514.15,217.13 512.00,217.00 C509.85,216.87 506.43,216.68 503.10,216.40 C499.77,216.12 495.68,215.85 492.00,215.30 C488.32,214.75 484.67,213.90 481.00,213.10 C477.33,212.30 473.73,211.02 470.00,210.50 C466.27,209.98 462.77,210.12 458.60,210.00 C454.43,209.88 448.93,209.92 445.00,209.80 C441.07,209.68 438.08,209.55 435.00,209.30 C431.92,209.05 429.33,208.68 426.50,208.30 C423.67,207.92 420.63,207.55 418.00,207.00 C415.37,206.45 413.28,205.92 410.70,205.00 C408.12,204.08 405.12,202.67 402.50,201.50 C399.88,200.33 397.08,198.87 395.00,198.00 C392.92,197.13 392.17,197.13 390.00,196.30 C387.83,195.47 384.70,194.47 382.00,193.00 C379.30,191.53 376.32,189.78 373.80,187.50 C371.28,185.22 368.97,182.50 366.90,179.30 C364.83,176.10 362.83,171.18 361.40,168.30 C359.97,165.42 359.37,164.22 358.30,162.00 C357.23,159.78 356.08,157.58 355.00,155.00 C353.92,152.42 352.85,149.50 351.80,146.50 C350.75,143.50 349.97,140.42 348.70,137.00 C347.43,133.58 345.48,129.67 344.20,126.00 C342.92,122.33 342.10,118.83 341.00,115.00 C339.90,111.17 338.68,106.83 337.60,103.00 C336.52,99.17 335.52,95.50 334.50,92.00 C333.48,88.50 332.42,84.83 331.50,82.00 C330.58,79.17 329.87,77.33 329.00,75.00 C328.13,72.67 327.25,70.17 326.30,68.00 C325.35,65.83 324.27,64.17 323.30,62.00 C322.33,59.83 321.47,57.33 320.50,55.00 C319.53,52.67 318.50,50.33 317.50,48.00 C316.50,45.67 315.50,43.42 314.50,41.00 C313.50,38.58 312.42,35.83 311.50,33.50 C310.58,31.17 309.42,28.08 309.00,27.00 Z" fill="#f2303b" fill-opacity="0.75" stroke="none"/></g>
<g clip-path="url(#clipB)" fill="none"><path d="M315.60,25.00 C316.20,26.13 317.80,29.30 319.20,31.80 C320.60,34.30 322.45,37.13 324.00,40.00 C325.55,42.87 326.80,45.58 328.50,49.00 C330.20,52.42 332.60,57.02 334.20,60.50 C335.80,63.98 336.80,66.65 338.10,69.90 C339.40,73.15 340.60,76.65 342.00,80.00 C343.40,83.35 344.92,86.33 346.50,90.00 C348.08,93.67 349.95,97.83 351.50,102.00 C353.05,106.17 354.47,111.17 355.80,115.00 C357.13,118.83 358.27,121.92 359.50,125.00 C360.73,128.08 361.87,130.50 363.20,133.50 C364.53,136.50 365.87,139.58 367.50,143.00 C369.13,146.42 371.27,151.17 373.00,154.00 C374.73,156.83 376.17,157.62 377.90,160.00 C379.63,162.38 381.38,165.55 383.40,168.30 C385.42,171.05 388.07,174.17 390.00,176.50 C391.93,178.83 393.00,180.42 395.00,182.30 C397.00,184.18 399.38,186.08 402.00,187.80 C404.62,189.52 407.87,191.23 410.70,192.60 C413.53,193.97 416.37,195.08 419.00,196.00 C421.63,196.92 423.83,197.43 426.50,198.10 C429.17,198.77 431.92,199.47 435.00,200.00 C438.08,200.53 442.17,200.93 445.00,201.30 C447.83,201.67 449.73,201.95 452.00,202.20 C454.27,202.45 455.60,202.55 458.60,202.80 C461.60,203.05 466.27,203.30 470.00,203.70 C473.73,204.10 477.33,204.85 481.00,205.20 C484.67,205.55 488.32,205.87 492.00,205.80 C495.68,205.73 499.77,205.10 503.10,204.80 C506.43,204.50 509.85,204.17 512.00,204.00 C514.15,203.83 515.33,203.83 516.00,203.80" stroke="#a8141f" stroke-width="0.9" stroke-dasharray="9.5 4.5"/><path d="M309.00,27.00 C309.42,28.08 310.58,31.17 311.50,33.50 C312.42,35.83 313.50,38.58 314.50,41.00 C315.50,43.42 316.50,45.67 317.50,48.00 C318.50,50.33 319.53,52.67 320.50,55.00 C321.47,57.33 322.33,59.83 323.30,62.00 C324.27,64.17 325.35,65.83 326.30,68.00 C327.25,70.17 328.13,72.67 329.00,75.00 C329.87,77.33 330.58,79.17 331.50,82.00 C332.42,84.83 333.48,88.50 334.50,92.00 C335.52,95.50 336.52,99.17 337.60,103.00 C338.68,106.83 339.90,111.17 341.00,115.00 C342.10,118.83 342.92,122.33 344.20,126.00 C345.48,129.67 347.43,133.58 348.70,137.00 C349.97,140.42 350.75,143.50 351.80,146.50 C352.85,149.50 353.92,152.42 355.00,155.00 C356.08,157.58 357.23,159.78 358.30,162.00 C359.37,164.22 359.97,165.42 361.40,168.30 C362.83,171.18 364.83,176.10 366.90,179.30 C368.97,182.50 371.28,185.22 373.80,187.50 C376.32,189.78 379.30,191.53 382.00,193.00 C384.70,194.47 387.83,195.47 390.00,196.30 C392.17,197.13 392.92,197.13 395.00,198.00 C397.08,198.87 399.88,200.33 402.50,201.50 C405.12,202.67 408.12,204.08 410.70,205.00 C413.28,205.92 415.37,206.45 418.00,207.00 C420.63,207.55 423.67,207.92 426.50,208.30 C429.33,208.68 431.92,209.05 435.00,209.30 C438.08,209.55 441.07,209.68 445.00,209.80 C448.93,209.92 454.43,209.88 458.60,210.00 C462.77,210.12 466.27,209.98 470.00,210.50 C473.73,211.02 477.33,212.30 481.00,213.10 C484.67,213.90 488.32,214.75 492.00,215.30 C495.68,215.85 499.77,216.12 503.10,216.40 C506.43,216.68 509.85,216.87 512.00,217.00 C514.15,217.13 515.33,217.17 516.00,217.20" stroke="#a8141f" stroke-width="0.9" stroke-dasharray="9.5 4.5"/><path d="M309.00,25.50 C309.52,26.08 310.80,27.17 312.10,29.00 C313.40,30.83 315.23,33.67 316.80,36.50 C318.37,39.33 319.92,42.92 321.50,46.00 C323.08,49.08 324.72,51.80 326.30,55.00 C327.88,58.20 329.43,61.03 331.00,65.20 C332.57,69.37 333.95,74.53 335.70,80.00 C337.45,85.47 339.33,92.17 341.50,98.00 C343.67,103.83 346.85,110.33 348.70,115.00 C350.55,119.67 351.17,122.07 352.60,126.00 C354.03,129.93 355.60,133.77 357.30,138.60 C359.00,143.43 360.97,150.85 362.80,155.00 C364.63,159.15 366.47,160.75 368.30,163.50 C370.13,166.25 371.73,168.63 373.80,171.50 C375.87,174.37 378.42,178.15 380.70,180.70 C382.98,183.25 385.12,185.08 387.50,186.80 C389.88,188.52 392.58,189.67 395.00,191.00 C397.42,192.33 399.38,193.62 402.00,194.80 C404.62,195.98 408.03,197.18 410.70,198.10 C413.37,199.02 415.37,199.65 418.00,200.30 C420.63,200.95 423.67,201.47 426.50,202.00 C429.33,202.53 431.92,203.03 435.00,203.50 C438.08,203.97 441.07,204.38 445.00,204.80 C448.93,205.22 454.43,205.63 458.60,206.00 C462.77,206.37 466.27,206.47 470.00,207.00 C473.73,207.53 477.33,208.65 481.00,209.20 C484.67,209.75 488.32,210.12 492.00,210.30 C495.68,210.48 499.10,210.33 503.10,210.30 C507.10,210.27 513.85,210.13 516.00,210.10" stroke="#d01830" stroke-width="1.0"/></g>
<g stroke="#1a1a1a" stroke-width="1.15" fill="none"><rect x="308.80" y="24.40" width="206.60" height="206.90"/><line x1="350.12" y1="231.30" x2="350.12" y2="229.10"/><line x1="350.12" y1="24.40" x2="350.12" y2="26.60"/><line x1="391.44" y1="231.30" x2="391.44" y2="229.10"/><line x1="391.44" y1="24.40" x2="391.44" y2="26.60"/><line x1="432.76" y1="231.30" x2="432.76" y2="229.10"/><line x1="432.76" y1="24.40" x2="432.76" y2="26.60"/><line x1="474.08" y1="231.30" x2="474.08" y2="229.10"/><line x1="474.08" y1="24.40" x2="474.08" y2="26.60"/><line x1="308.80" y1="210.61" x2="311.00" y2="210.61"/><line x1="515.40" y1="210.61" x2="513.20" y2="210.61"/><line x1="308.80" y1="189.92" x2="311.00" y2="189.92"/><line x1="515.40" y1="189.92" x2="513.20" y2="189.92"/><line x1="308.80" y1="169.23" x2="311.00" y2="169.23"/><line x1="515.40" y1="169.23" x2="513.20" y2="169.23"/><line x1="308.80" y1="148.54" x2="311.00" y2="148.54"/><line x1="515.40" y1="148.54" x2="513.20" y2="148.54"/><line x1="308.80" y1="127.85" x2="311.00" y2="127.85"/><line x1="515.40" y1="127.85" x2="513.20" y2="127.85"/><line x1="308.80" y1="107.16" x2="311.00" y2="107.16"/><line x1="515.40" y1="107.16" x2="513.20" y2="107.16"/><line x1="308.80" y1="86.47" x2="311.00" y2="86.47"/><line x1="515.40" y1="86.47" x2="513.20" y2="86.47"/><line x1="308.80" y1="65.78" x2="311.00" y2="65.78"/><line x1="515.40" y1="65.78" x2="513.20" y2="65.78"/><line x1="308.80" y1="45.09" x2="311.00" y2="45.09"/><line x1="515.40" y1="45.09" x2="513.20" y2="45.09"/></g>
<text x="305.60" y="234.50" text-anchor="end" class="tk">0</text><text x="305.60" y="213.81" text-anchor="end" class="tk">0.1</text><text x="305.60" y="193.12" text-anchor="end" class="tk">0.2</text><text x="305.60" y="172.43" text-anchor="end" class="tk">0.3</text><text x="305.60" y="151.74" text-anchor="end" class="tk">0.4</text><text x="305.60" y="131.05" text-anchor="end" class="tk">0.5</text><text x="305.60" y="110.36" text-anchor="end" class="tk">0.6</text><text x="305.60" y="89.67" text-anchor="end" class="tk">0.7</text><text x="305.60" y="68.98" text-anchor="end" class="tk">0.8</text><text x="305.60" y="48.29" text-anchor="end" class="tk">0.9</text><text x="305.60" y="27.60" text-anchor="end" class="tk">1</text><text x="308.80" y="242.10" text-anchor="middle" class="tk">0</text><text x="350.12" y="242.10" text-anchor="middle" class="tk">10</text><text x="391.44" y="242.10" text-anchor="middle" class="tk">20</text><text x="432.76" y="242.10" text-anchor="middle" class="tk">30</text><text x="474.08" y="242.10" text-anchor="middle" class="tk">40</text><text x="515.40" y="242.10" text-anchor="middle" class="tk">50</text>

<text x="0.1" y="13.9" class="pl">A</text>
<text x="274.5" y="15.1" class="pl">B</text>
<text x="109.5" y="19.4" class="ttl">Uturuncu</text>
<text x="395" y="19.4" class="ttl">Lazufre</text>
<text transform="translate(16.2,127.5) rotate(-90)" text-anchor="middle" class="al">Normalized magnitude</text>
<text transform="translate(289.2,127.5) rotate(-90)" text-anchor="middle" class="al">Normalized magnitude</text>
<text x="139" y="251.5" text-anchor="middle" class="al">Radial distance (km)</text>
<text x="411.9" y="251.5" text-anchor="middle" class="al">Radial distance (km)</text>
<text transform="translate(59.6,37.6) rotate(36.8)" class="ann">InSAR</text>
<text transform="translate(121,62) rotate(-14)" class="ann">&#955; &gt; 35 km</text>
<text transform="translate(50,178.2) rotate(50.5)" class="ann">&#955; &lt; 35 km</text>
<text transform="translate(314.7,73) rotate(72)" class="ann">InSAR</text>
<text transform="translate(462.5,105.1) rotate(-12.5)" class="ann">&#955; &gt; 35 km</text>
<text transform="translate(321,204.4) rotate(13)" class="ann">&#955; &lt; 35 km</text>

</svg>
</div></body></html>
